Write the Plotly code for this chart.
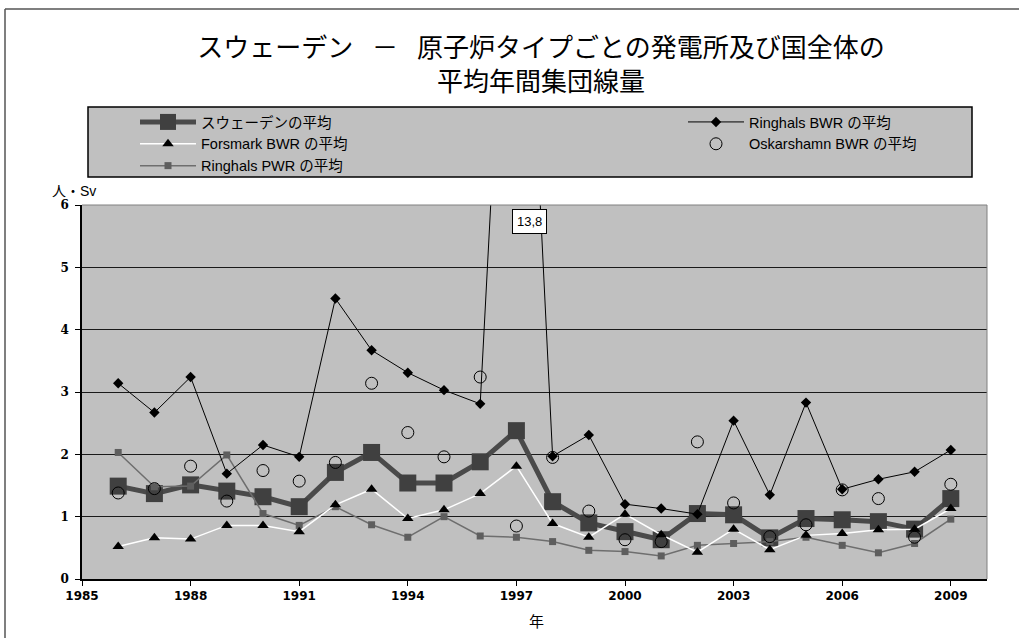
import plotly.graph_objects as go

years = [1986, 1987, 1988, 1989, 1990, 1991, 1992, 1993, 1994, 1995, 1996, 1997,
         1998, 1999, 2000, 2001, 2002, 2003, 2004, 2005, 2006, 2007, 2008, 2009]

sweden_avg = [1.49, 1.37, 1.51, 1.41, 1.32, 1.16, 1.71, 2.03, 1.54, 1.54, 1.88, 2.38,
              1.24, 0.90, 0.76, 0.63, 1.05, 1.03, 0.66, 0.97, 0.95, 0.92, 0.80, 1.29]
ringhals_bwr = [3.14, 2.67, 3.24, 1.69, 2.15, 1.96, 4.50, 3.67, 3.31, 3.03, 2.81, 13.8,
                1.97, 2.31, 1.20, 1.13, 1.04, 2.54, 1.35, 2.83, 1.44, 1.60, 1.72, 2.07]
forsmark_bwr = [0.52, 0.66, 0.64, 0.86, 0.86, 0.76, 1.19, 1.44, 0.97, 1.11, 1.37, 1.81,
                0.89, 0.67, 1.04, 0.71, 0.43, 0.80, 0.47, 0.70, 0.73, 0.79, 0.80, 1.13]
ringhals_pwr = [2.03, 1.48, 1.49, 1.99, 1.05, 0.86, 1.16, 0.87, 0.67, 1.00, 0.69, 0.67,
                0.60, 0.46, 0.44, 0.37, 0.54, 0.57, 0.60, 0.67, 0.54, 0.42, 0.57, 0.96]
oskarshamn_bwr = [1.38, 1.45, 1.81, 1.25, 1.74, 1.57, 1.87, 3.14, 2.35, 1.96, 3.24, 0.85,
                  1.95, 1.09, 0.63, 0.60, 2.20, 1.22, 0.68, 0.87, 1.43, 1.29, 0.67, 1.52]

series_names = ["スウェーデンの平均", "Ringhals BWR の平均", "Forsmark BWR の平均",
                "Oskarshamn BWR の平均", "Ringhals PWR の平均"]
y_ticks = [0, 1, 2, 3, 4, 5, 6]
x_ticks = [1985, 1988, 1991, 1994, 1997, 2000, 2003, 2006, 2009]
peak_label = "13,8"

title_text = ("スウェーデン \u2002－\u2002 原子炉タイプごとの発電所及び国全体の"
              "<br>平均年間集団線量")
y_unit = "人・Sv"
x_title = "年"

FONT = "Liberation Sans, Arial, Noto Sans CJK JP, sans-serif"

# Plot area in pixels
W, H = 1019, 638
L, R, T, B = 82, 987, 205, 579


def px(x):
    return (x - L) / (R - L)


def py(y):
    return (B - y) / (B - T)


fig = go.Figure()

fig.add_trace(go.Scatter(
    x=years, y=sweden_avg, name=series_names[0], mode="lines+markers",
    line=dict(color="#4a4a4a", width=5),
    marker=dict(symbol="square", size=17, color="#404040"),
    legend="legend", legendrank=1))
fig.add_trace(go.Scatter(
    x=years, y=ringhals_pwr, name=series_names[4], mode="lines+markers",
    line=dict(color="#6e6e6e", width=1.5),
    marker=dict(symbol="square", size=7, color="#5e5e5e"),
    legend="legend", legendrank=3))
fig.add_trace(go.Scatter(
    x=years, y=forsmark_bwr, name=series_names[2], mode="lines+markers",
    line=dict(color="#ffffff", width=1.5),
    marker=dict(symbol="triangle-up", size=10, color="#000000"),
    legend="legend", legendrank=2))
fig.add_trace(go.Scatter(
    x=years, y=ringhals_bwr, name=series_names[1], mode="lines+markers",
    line=dict(color="#000000", width=1),
    marker=dict(symbol="diamond", size=8, color="#000000"),
    legend="legend2", legendrank=1))
fig.add_trace(go.Scatter(
    x=years, y=oskarshamn_bwr, name=series_names[3], mode="markers",
    marker=dict(symbol="circle-open", size=12, color="#000000", line=dict(width=1)),
    legend="legend2", legendrank=2))

shapes = [
    # legend box
    dict(type="rect", xref="paper", yref="paper", x0=px(88), x1=px(972),
         y0=py(177), y1=py(107), fillcolor="#c0c0c0",
         line=dict(color="#000000", width=1.5), layer="below"),
    # outer frame (top + left)
    dict(type="line", xref="paper", yref="paper", x0=px(5), x1=px(1019),
         y0=py(9), y1=py(9), line=dict(color="#555555", width=1.5)),
    dict(type="line", xref="paper", yref="paper", x0=px(5), x1=px(5),
         y0=py(9), y1=py(640), line=dict(color="#555555", width=1.5)),
    # plot area top/right border
    dict(type="line", xref="paper", yref="paper", x0=1, x1=1, y0=0, y1=1,
         line=dict(color="#808080", width=1)),
    dict(type="line", xref="paper", yref="paper", x0=0, x1=1, y0=1, y1=1,
         line=dict(color="#808080", width=1)),
]

annotations = [
    dict(text=y_unit, xref="paper", yref="paper", x=px(50), y=py(191),
         xanchor="left", yanchor="middle", showarrow=False,
         font=dict(family=FONT, size=14, color="#000000")),
    dict(text=x_title, xref="paper", yref="paper", x=px(536), y=py(621),
         xanchor="center", yanchor="middle", showarrow=False,
         font=dict(family=FONT, size=15, color="#000000")),
    dict(text=peak_label, x=1997.35, y=5.73, xref="x", yref="y",
         showarrow=False, bgcolor="#ffffff", bordercolor="#000000",
         borderwidth=1, borderpad=4,
         font=dict(family=FONT, size=13, color="#000000")),
]

fig.update_layout(
    width=W, height=H,
    margin=dict(l=L, r=W - R, t=T, b=H - B, autoexpand=False),
    paper_bgcolor="#ffffff", plot_bgcolor="#c0c0c0",
    title=dict(text=title_text, x=px(541), xref="paper", xanchor="center",
               y=1 - 57 / H, yanchor="middle",
               font=dict(family="Noto Sans CJK JP, sans-serif", size=26, color="#000000")),
    showlegend=True,
    legend=dict(x=px(135), y=py(106), xanchor="left", yanchor="top",
                bgcolor="rgba(0,0,0,0)", borderwidth=0, itemwidth=56,
                traceorder="normal", tracegroupgap=0,
                font=dict(family=FONT, size=14.5, color="#000000")),
    legend2=dict(x=px(683), y=py(106), xanchor="left", yanchor="top",
                 bgcolor="rgba(0,0,0,0)", borderwidth=0, itemwidth=56,
                 traceorder="normal", tracegroupgap=0,
                 font=dict(family=FONT, size=14.5, color="#000000")),
    xaxis=dict(range=[1985, 2010], tickmode="array", tickvals=x_ticks,
               ticktext=[str(v) for v in x_ticks],
               showgrid=False, zeroline=False, showline=True,
               linecolor="#000000", linewidth=1.5,
               ticks="outside", ticklen=5, tickcolor="#000000",
               tickfont=dict(family="DejaVu Sans, sans-serif", size=12,
                             color="#000000", weight="bold")),
    yaxis=dict(range=[0, 6], tickmode="array", tickvals=y_ticks,
               showgrid=True, gridcolor="#1a1a1a", gridwidth=1,
               zeroline=False, showline=True, linecolor="#000000", linewidth=1.5,
               ticks="outside", ticklen=5, tickcolor="#000000",
               ticklabelstandoff=4,
               tickfont=dict(family="DejaVu Serif, serif", size=12,
                             color="#000000", weight="bold")),
    shapes=shapes,
    annotations=annotations,
)

fig.write_html("out.html", config={"displayModeBar": False},
               post_script="document.body.style.margin='0';")
